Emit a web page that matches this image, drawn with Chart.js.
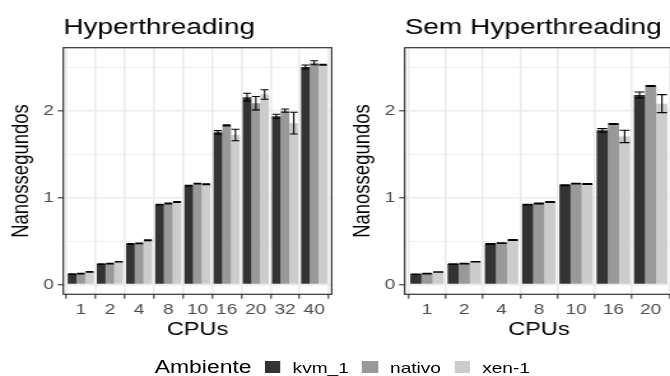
<!DOCTYPE html>
<html>
<head>
<meta charset="utf-8">
<script src="https://cdn.jsdelivr.net/npm/chart.js@4.4.1/dist/chart.umd.min.js"></script>
<style>
    html, body { margin: 0; padding: 0; background: #fff; overflow: hidden; }
    /* a figura original foi esticada na horizontal, por isso o scaleX */
    #figura {
        position: absolute; left: 0; top: 0;
        width: 536px; height: 376px;
        transform: scaleX(1.2738); transform-origin: 0 0;
        font-family: "Liberation Sans", Arial, sans-serif;
    }
    .painel { position: absolute; top: 0; width: 268px; height: 376px; }
    #legenda {
        position: absolute; left: 6px; top: 357px; width: 536px; height: 20px;
        display: flex; justify-content: center; align-items: center;
    }
    #legenda .titulo { font-size: 18px; margin-right: 10.4px; color: #000; }
    #legenda .caixa { width: 12.3px; height: 12.5px; margin-right: 9.5px; }
    #legenda .rotulo { font-size: 15px; margin-right: 10.5px; color: #000; }
</style>
</head>
<body>
<div id="figura">
    <div class="painel" style="left:0"><canvas id="comHT"></canvas></div>
    <div class="painel" style="left:268px"><canvas id="semHT"></canvas></div>
    <div id="legenda"></div>
</div>
<script>
"use strict";

// Ambientes e cores (escala de cinza)
const ambientes = ["kvm_1", "nativo", "xen-1"];
const cores = ["#333333", "#999999", "#CCCCCC"];

// Com Hyperthreading
const cpusHT = ["1", "2", "4", "8", "10", "16", "20", "32", "40"];
const kvmHT    = [0.120, 0.235, 0.467, 0.921, 1.140, 1.754, 2.160, 1.940, 2.507];
const nativoHT = [0.125, 0.240, 0.475, 0.933, 1.163, 1.835, 2.090, 2.004, 2.557];
const xenHT    = [0.145, 0.262, 0.510, 0.951, 1.155, 1.724, 2.190, 1.860, 2.534];
const kvmHTdp    = [0.003, 0.003, 0.004, 0.005, 0.005, 0.020, 0.045, 0.023, 0.023];
const nativoHTdp = [0.003, 0.003, 0.004, 0.005, 0.005, 0.006, 0.077, 0.019, 0.023];
const xenHTdp    = [0.003, 0.003, 0.004, 0.005, 0.005, 0.066, 0.055, 0.125, 0.005];

// Sem Hyperthreading
const cpusSemHT = ["1", "2", "4", "8", "10", "16", "20"];
const kvmSemHT    = [0.118, 0.235, 0.467, 0.921, 1.143, 1.777, 2.185];
const nativoSemHT = [0.125, 0.240, 0.478, 0.933, 1.163, 1.850, 2.288];
const xenSemHT    = [0.144, 0.262, 0.513, 0.951, 1.159, 1.707, 2.085];
const kvmSemHTdp    = [0.003, 0.003, 0.004, 0.005, 0.005, 0.020, 0.035];
const nativoSemHTdp = [0.003, 0.003, 0.004, 0.005, 0.005, 0.006, 0.006];
const xenSemHTdp    = [0.003, 0.003, 0.004, 0.005, 0.005, 0.071, 0.104];

// Eixo y: rótulos e grade (linhas menores a cada 0.5)
const rotulosY = [0, 1, 2];
const gradeY = [0, 0.5, 1, 1.5, 2, 2.5];
const yMin = -0.113;
const yMax = 2.73;

Chart.defaults.font.family = '"Liberation Sans", Arial, sans-serif';

// Barras de erro (média ± desvio) desenhadas sobre as barras
const barrasDeErro = {
    id: 'barrasDeErro',
    afterDatasetsDraw(chart) {
        const { ctx, scales: { y } } = chart;
        ctx.save();
        ctx.strokeStyle = '#000';
        ctx.lineWidth = 1.1;
        chart.data.datasets.forEach((ds, i) => {
            chart.getDatasetMeta(i).data.forEach((barra, j) => {
                const media = ds.data[j].y;
                const dp = ds.erros[j];
                const yAlto = y.getPixelForValue(media + dp);
                const yBaixo = y.getPixelForValue(media - dp);
                const meia = barra.width * 0.45;
                ctx.beginPath();
                ctx.moveTo(barra.x - meia, yAlto); ctx.lineTo(barra.x + meia, yAlto);
                ctx.moveTo(barra.x, yAlto); ctx.lineTo(barra.x, yBaixo);
                ctx.moveTo(barra.x - meia, yBaixo); ctx.lineTo(barra.x + meia, yBaixo);
                ctx.stroke();
            });
        });
        ctx.restore();
    }
};

// Moldura do painel e título à esquerda (estilo ggplot)
const molduraETitulo = {
    id: 'molduraETitulo',
    afterDraw(chart, args, opts) {
        const { ctx, chartArea: a } = chart;
        ctx.save();
        ctx.strokeStyle = '#333333';
        ctx.lineWidth = 1.2;
        ctx.strokeRect(a.left, a.top, a.right - a.left, a.bottom - a.top);
        ctx.fillStyle = '#000';
        ctx.font = '22px "Liberation Sans", Arial, sans-serif';
        ctx.textAlign = 'left';
        ctx.textBaseline = 'alphabetic';
        ctx.fillText(opts.texto, a.left, 34.3);
        ctx.restore();
    }
};

function criarGrafico(id, titulo, cpus, valores, erros) {
    const datasets = ambientes.map((nome, i) => ({
        label: nome,
        data: valores[i].map((v, j) => ({ x: j, y: v })),
        erros: erros[i],
        backgroundColor: cores[i],
        borderWidth: 0,
        categoryPercentage: 0.9,
        barPercentage: 1.0
    }));

    const principal = c => c.tick && Number.isInteger(c.tick.value);

    return new Chart(document.getElementById(id), {
        type: 'bar',
        data: { datasets: datasets },
        options: {
            animation: false,
            responsive: true,
            maintainAspectRatio: false,
            layout: { padding: { top: 47.7, right: 7.6, bottom: 36.7, left: 0 } },
            plugins: {
                legend: { display: false },
                tooltip: { enabled: false },
                molduraETitulo: { texto: titulo }
            },
            scales: {
                x: {
                    type: 'linear',
                    min: -0.6,
                    max: cpus.length - 0.4,
                    offset: false,
                    afterBuildTicks: ax => { ax.ticks = cpus.map((c, j) => ({ value: j })); },
                    afterFit: ax => { ax.height = 45; },
                    ticks: {
                        callback: v => cpus[v],
                        color: '#4D4D4D',
                        font: { size: 15 },
                        padding: 2,
                        maxRotation: 0,
                        autoSkip: false
                    },
                    grid: {
                        color: '#EBEBEB',
                        lineWidth: 1.6,
                        tickLength: 4.5,
                        tickColor: '#333333',
                        tickWidth: 1.1
                    },
                    border: { display: false },
                    title: {
                        display: true,
                        text: 'CPUs',
                        color: '#000',
                        font: { size: 18.5, lineHeight: 1 },
                        padding: 0
                    }
                },
                y: {
                    min: yMin,
                    max: yMax,
                    afterBuildTicks: ax => { ax.ticks = gradeY.map(v => ({ value: v })); },
                    afterFit: ax => { ax.width = 49.7; },
                    ticks: {
                        callback: v => rotulosY.includes(v) ? String(v) : '',
                        color: '#4D4D4D',
                        font: { size: 15 },
                        padding: 3
                    },
                    grid: {
                        color: '#EBEBEB',
                        lineWidth: c => principal(c) ? 1.6 : 0.8,
                        tickLength: 4.4,
                        tickColor: c => principal(c) ? '#333333' : 'rgba(0,0,0,0)',
                        tickWidth: 1.1
                    },
                    border: { display: false },
                    title: {
                        display: true,
                        text: 'Nanossegundos',
                        color: '#000',
                        font: { size: 18.5, lineHeight: 1 },
                        padding: { top: 8, bottom: 0 }
                    }
                }
            }
        },
        plugins: [barrasDeErro, molduraETitulo]
    });
}

criarGrafico('comHT', 'Hyperthreading', cpusHT,
    [kvmHT, nativoHT, xenHT], [kvmHTdp, nativoHTdp, xenHTdp]);
criarGrafico('semHT', 'Sem Hyperthreading', cpusSemHT,
    [kvmSemHT, nativoSemHT, xenSemHT], [kvmSemHTdp, nativoSemHTdp, xenSemHTdp]);

// Legenda "Ambiente" embaixo, centralizada
const legenda = document.getElementById('legenda');
let html = '<span class="titulo">Ambiente</span>';
ambientes.forEach((nome, i) => {
    html += '<span class="caixa" style="background:' + cores[i] + '"></span>' +
            '<span class="rotulo">' + nome + '</span>';
});
legenda.innerHTML = html;
</script>
</body>
</html>
